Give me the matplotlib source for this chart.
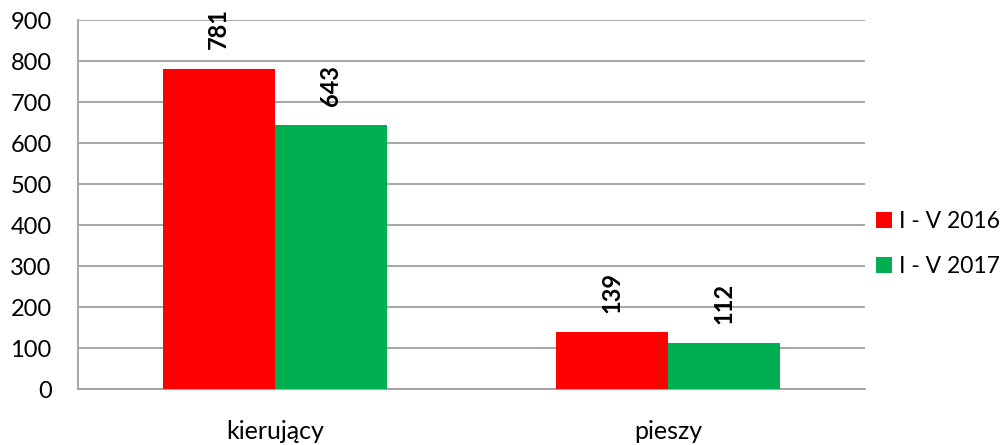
import matplotlib
matplotlib.use("Agg")
import matplotlib.pyplot as plt
import numpy as np

categories = ["kierujący", "pieszy"]
series_names = ["I - V 2016", "I - V 2017"]
values_2016 = [781, 139]
values_2017 = [643, 112]
colors = ["#FF0000", "#00B050"]

plt.rcParams['font.family'] = ['Lato', 'DejaVu Sans']

fig = plt.figure(figsize=(10.03, 4.45), dpi=100)
ax = fig.add_axes([0.0778, 0.1258, 0.7846, 0.829])

x = np.arange(len(categories))
w = 0.285
for k, vals in enumerate([values_2016, values_2017]):
    b = ax.bar(x + (k - 0.5) * w, vals, w, color=colors[k], label=series_names[k], zorder=3)
    for rect, v in zip(b, vals):
        ax.annotate(str(v), (rect.get_x() + rect.get_width() / 2, v),
                    xytext=(0, 14), textcoords="offset points",
                    rotation=90, ha="center", va="bottom",
                    fontsize=17, fontweight="bold")

ax.set_xlim(-0.5, 1.5)
ax.set_ylim(0, 900)
ax.set_yticks(range(0, 901, 100))
ax.set_xticks(x)
ax.set_xticklabels(categories, fontsize=18)
ax.tick_params(axis="y", labelsize=17, length=0, pad=19)
ax.tick_params(axis="x", length=0, pad=22)
ax.yaxis.grid(True, color="#A0A0A0", linewidth=1.3, zorder=0)
ax.set_axisbelow(True)
for s in ["top", "right"]:
    ax.spines[s].set_visible(False)
for s in ["left", "bottom"]:
    ax.spines[s].set_color("#A0A0A0")
    ax.spines[s].set_linewidth(1.3)

fig.legend(loc="center left", bbox_to_anchor=(0.873, 0.452), frameon=False,
           fontsize=16.5, handlelength=0.7, handleheight=0.7, handletextpad=0.3,
           labelspacing=1.05, borderaxespad=0, borderpad=0)

fig.savefig("out.png", dpi=100)
